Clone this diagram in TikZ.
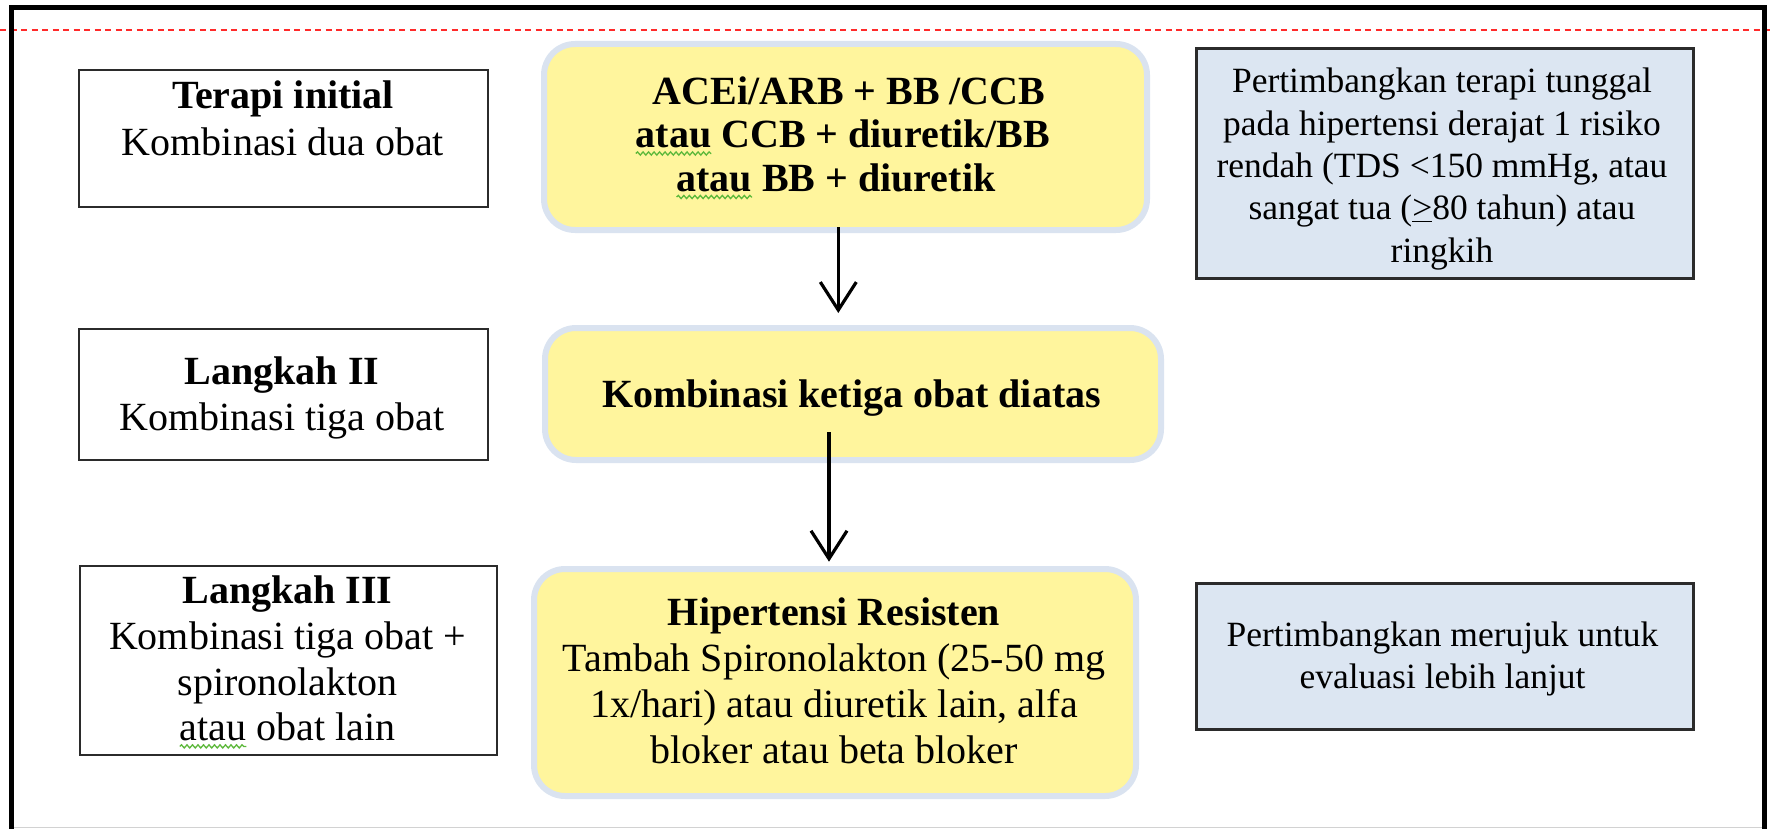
\documentclass[tikz,border=0pt]{standalone}
\usepackage{fontspec}
\setmainfont{Liberation Serif}
\usetikzlibrary{arrows.meta,calc,decorations.pathmorphing}
\definecolor{yfill}{HTML}{FFF59D}
\definecolor{yline}{HTML}{DAE3F0}
\definecolor{bfill}{HTML}{DCE6F2}
\definecolor{kline}{HTML}{2B2B2B}
\definecolor{rdash}{HTML}{FF2A2A}
\definecolor{sqgreen}{HTML}{5CB83A}
\newlength\wlineA
\newlength\wlineB
\newlength\wlineC
\newlength\watauB
\newlength\watauR
\begin{document}
\settowidth{\wlineA}{\fontsize{40pt}{44pt}\selectfont\bfseries atau CCB + diuretik/BB}%
\settowidth{\wlineB}{\fontsize{40pt}{44pt}\selectfont\bfseries atau BB + diuretik}%
\settowidth{\wlineC}{\fontsize{40pt}{44pt}\selectfont atau obat lain}%
\settowidth{\watauB}{\fontsize{40pt}{44pt}\selectfont\bfseries atau}%
\settowidth{\watauR}{\fontsize{40pt}{44pt}\selectfont atau}%
\begin{tikzpicture}[x=1pt,y=-1pt,
  whitebox/.style={draw=kline, line width=2pt, fill=white, inner sep=0pt},
  yellowbox/.style={draw=yline, line width=6pt, fill=yfill, rounded corners=31pt, inner sep=0pt},
  bluebox/.style={draw=kline, line width=2.5pt, fill=bfill, inner sep=0pt},
  bigtext/.style={anchor=north, inner sep=0pt, align=center, font=\fontsize{40pt}{#1}\selectfont},
  boldtext/.style={anchor=north, inner sep=0pt, align=center, font=\fontsize{40pt}{#1}\selectfont\bfseries},
  smalltext/.style={anchor=north, inner sep=0pt, align=center, font=\fontsize{35.5pt}{#1}\selectfont},
  flow/.style={line width=3.2pt, -{Straight Barb[length=28pt,width=36pt,line width=3.2pt]}},
  squiggle/.style={draw=sqgreen, line width=1.3pt, decorate, decoration={snake, amplitude=1.6pt, segment length=5.5pt}}
]
\useasboundingbox (0,0) rectangle (1771,829);

% red dashed line and frame
\draw[rdash, line width=2pt, dash pattern=on 6pt off 4.5pt] (0,30) -- (1771,30);
\draw[gray!35, line width=1.5pt] (9,827.5) -- (1766,827.5);
\draw[black, line width=5pt, line join=miter] (11.5,829) -- (11.5,8) -- (1764,8) -- (1764,829);

% left boxes
\node[whitebox, minimum width=409pt, minimum height=136pt] (L1) at (283.75,138.5) {};
\node[whitebox, minimum width=409pt, minimum height=131pt] (L2) at (283.75,394.65) {};
\node[whitebox, minimum width=417pt, minimum height=189pt] (L3) at (288,660.25) {};

\node[bigtext=46.7pt] (L1t) at (283,76.3) {\rule{0pt}{32pt}\textbf{Terapi initial}\\Kombinasi dua obat};
\node[bigtext=46pt] (L2t) at (282,352) {\rule{0pt}{32pt}\textbf{Langkah II}\\Kombinasi tiga obat};
\node[bigtext=45.6pt] (L3t) at (287.5,571.6) {\rule{0pt}{32pt}\textbf{Langkah III}\\Kombinasi tiga obat +\\spironolakton\\atau obat lain};

% middle yellow boxes
\node[yellowbox, minimum width=603pt, minimum height=186pt] (Y1) at (845.5,137) {};
\node[yellowbox, minimum width=616pt, minimum height=132pt] (Y2) at (853,394) {};
\node[yellowbox, minimum width=602pt, minimum height=227pt] (Y3) at (835,682.5) {};

\node[boldtext=43.5pt] (Y1t) at (843,72) {\hspace*{12pt}\rule{0pt}{32pt}ACEi/ARB + BB /CCB\\atau CCB + diuretik/BB\\atau BB + diuretik\hspace*{14pt}};
\node[boldtext=46pt] (Y2t) at (851.5,375) {\rule{0pt}{32pt}Kombinasi ketiga obat diatas};
\node[bigtext=45.8pt] (Y3t) at (834,593.6) {\rule{0pt}{32pt}\textbf{Hipertensi Resisten}\\Tambah Spironolakton (25-50 mg\\1x/hari) atau diuretik lain, alfa\hspace*{12pt}\\bloker atau beta bloker};

% right blue boxes
\node[bluebox, minimum width=497pt, minimum height=230pt] (B1) at (1444.75,163.5) {};
\node[bluebox, minimum width=497pt, minimum height=146pt] (B2) at (1444.75,656.3) {};

\node[smalltext=42.3pt] (B1t) at (1442,64.7) {\rule{0pt}{28pt}Pertimbangkan terapi tunggal\\pada hipertensi derajat 1 risiko\\rendah (TDS <150 mmHg, atau\\sangat tua (\underline{>}80 tahun) atau\\ringkih};
\node[smalltext=42.2pt] (B2t) at (1442.5,617.8) {\rule{0pt}{28pt}Pertimbangkan merujuk untuk\\evaluasi lebih lanjut};

% spell-check squiggles under "atau"
\pgfmathsetmacro\sqAx{843-0.5*\wlineA}
\pgfmathsetmacro\sqAe{\sqAx+\watauB}
\pgfmathsetmacro\sqBx{843-0.5*(\wlineB+14)}
\pgfmathsetmacro\sqBe{\sqBx+\watauB}
\pgfmathsetmacro\sqCx{287.5-0.5*\wlineC}
\pgfmathsetmacro\sqCe{\sqCx+\watauR}
\draw[squiggle] (\sqAx,153.5) -- (\sqAe,153.5);
\draw[squiggle] (\sqBx,197) -- (\sqBe,197);
\draw[squiggle] (\sqCx,746.4) -- (\sqCe,746.4);

% connectors
\coordinate (a1x) at (838.3,0);
\coordinate (a2x) at (829,0);
\draw[flow] ($(Y1.south -| a1x)+(0,-6)$) -- ($(Y2.north -| a1x)+(0,-12)$);
\draw[flow] ($(Y2.south -| a2x)+(0,-31)$) -- ($(Y3.north -| a2x)+(0,-4.3)$);
\end{tikzpicture}
\end{document}
